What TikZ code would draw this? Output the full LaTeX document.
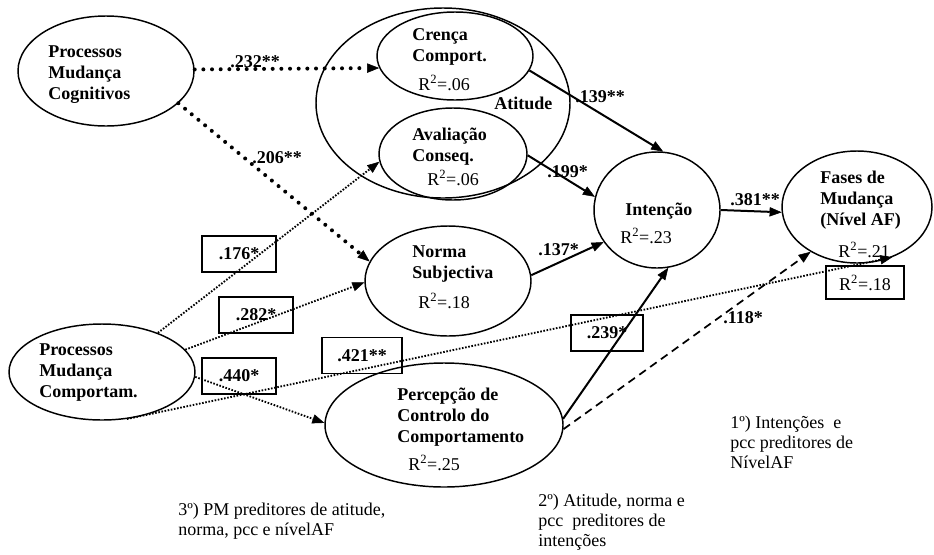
\documentclass[tikz,border=0pt]{standalone}
\usepackage{fontspec}
\setmainfont{Liberation Serif}
\usetikzlibrary{shapes.geometric,arrows.meta}
\newcommand{\mlines}[1]{\begin{tabular}[t]{@{}l@{}}#1\end{tabular}}
\begin{document}
\begin{tikzpicture}[x=0.75pt,y=-0.75pt,
  >={Triangle[length=9pt,width=7pt,line width=0.4pt]},
  every node/.style={font=\fontsize{13.5}{16}\selectfont},
  ell/.style={draw, ellipse, line width=1.1pt, inner sep=0pt},
  txtb/.style={anchor=base west, inner sep=0pt, font=\fontsize{13.5}{16}\selectfont\bfseries},
  txt/.style={anchor=base west, inner sep=0pt, font=\fontsize{13.5}{16}\selectfont},
  captxt/.style={anchor=base west, inner sep=0pt, font=\fontsize{13.5}{15}\selectfont},
  box/.style={draw, line width=1pt, minimum width=55.5pt, minimum height=27pt, inner sep=0pt, font=\fontsize{13.5}{16}\selectfont\bfseries},
  bigdot/.style={line width=3pt, line cap=round, dash pattern=on 0pt off 6.5pt},
  finedot/.style={line width=1.4pt, dash pattern=on 1.2pt off 1.2pt},
  dashline/.style={line width=1.3pt, dash pattern=on 6pt off 4pt},
  solidarr/.style={line width=1.5pt}
]
\useasboundingbox (0,0) rectangle (934,554);

% ellipses
\node[ell, minimum width=132pt, minimum height=82.5pt] (pmc) at (106,71) {};
\node[ell, minimum width=190.5pt, minimum height=142.5pt] (atit) at (443,103) {};
\node[ell, minimum width=117pt, minimum height=66pt] (cren) at (455,56) {};
\node[ell, minimum width=111pt, minimum height=69pt] (aval) at (453,154) {};
\node[ell, minimum width=124.5pt, minimum height=82.5pt] (norma) at (448,281) {};
\node[ell, minimum width=94.5pt, minimum height=87pt] (int) at (657,210) {};
\node[ell, minimum width=112.5pt, minimum height=84pt] (fases) at (857,207) {};
\node[ell, minimum width=139.5pt, minimum height=72pt] (pmcomp) at (102,372) {};
\node[ell, minimum width=178.5pt, minimum height=93pt] (perc) at (444,425) {};

% texts in ellipses
\node[txtb] (tpmc) at (48,57) {\mlines{Processos\\Mudança\\Cognitivos}};
\node[txtb] (tcren) at (412,40) {\mlines{Crença\\Comport.}};
\node[txt] (rcren) at (418,90) {R\textsuperscript{2}=.06};
\node[txtb] (tatit) at (494,109) {Atitude};
\node[txtb] (taval) at (412,140) {\mlines{Avaliação\\Conseq.}};
\node[txt] (raval) at (427,185) {R\textsuperscript{2}=.06};
\node[txtb] (tnorma) at (412,257) {\mlines{Norma\\Subjectiva}};
\node[txt] (rnorma) at (418,308) {R\textsuperscript{2}=.18};
\node[txtb] (tint) at (625,215) {Intenção};
\node[txt] (rint) at (620,243) {R\textsuperscript{2}=.23};
\node[txtb] (tfases) at (820,183) {\mlines{Fases de\\Mudança\\(Nível AF)}};
\node[txt] (rfases) at (838,257) {R\textsuperscript{2}=.21};
\node[txtb] (tpmcomp) at (39,355) {\mlines{Processos\\Mudança\\Comportam.}};
\node[txtb] (tperc) at (397,400) {\mlines{Percepção de\\Controlo do\\Comportamento}};
\node[txt] (rperc) at (408,470) {R\textsuperscript{2}=.25};

% connectors
\draw[bigdot,->] (pmc.1) -- (cren.189);
\draw[bigdot,->] (pmc.-24) -- (norma.166);
\draw[finedot,->] (pmcomp.35) -- (aval.186);
\draw[finedot,->] (pmcomp.15) -- (norma.181);
\draw[finedot,->] (pmcomp.-3) -- (perc.179);
\draw[finedot,->] (pmcomp.-62) -- (fases.-55);
\draw[solidarr,->] (cren.-11) -- (int.84);
\draw[solidarr,->] (aval.-1) -- (int.168);
\draw[solidarr,->] (norma.4) -- (int.211);
\draw[solidarr,->] (perc.3) -- (int.-79);
\draw[dashline,->] (perc.-2) -- (fases.224);
\draw[solidarr,->] (int.0) -- (fases.184);

% boxed labels
\node[box] (b176) at (239,254) {.176*};
\node[box] (b282) at (256,315) {.282*};
\node[box] (b440) at (239,376) {.440*};
\node[box, minimum width=60pt] (b421) at (362,355.5) {.421**};
\node[box, minimum width=54pt] (b239) at (607,333) {.239*};
\node[box, minimum width=58.5pt, minimum height=24.75pt, font=\fontsize{13.5}{16}\selectfont] (b18) at (865,282.5) {R\textsuperscript{2}=.18};

% plain labels
\node[txtb] (l232) at (230,67) {.232**};
\node[txtb] (l206) at (252,163) {.206**};
\node[txtb] (l139) at (575,102) {.139**};
\node[txtb] (l199) at (547,177) {.199*};
\node[txtb] (l381) at (730,205) {.381**};
\node[txtb] (l137) at (538,255) {.137*};
\node[txtb] (l118) at (723,323) {.118*};

% captions
\node[captxt] (c1) at (730,428) {\mlines{1º) Intenções\ \ e\\pcc preditores de\\NívelAF}};
\node[captxt] (c2) at (538,506) {\mlines{2º) Atitude, norma e\\pcc\ \ preditores de\\intenções}};
\node[captxt] (c3) at (178,515) {\mlines{3º) PM preditores de atitude,\\norma, pcc e nívelAF}};
\end{tikzpicture}
\end{document}
